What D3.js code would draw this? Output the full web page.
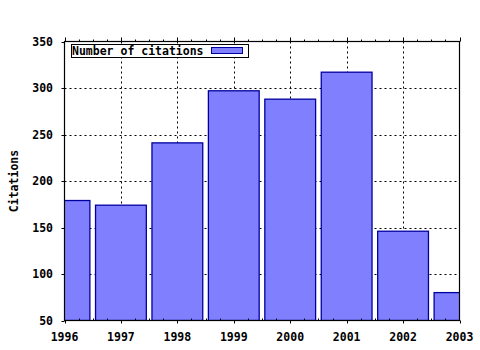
<!DOCTYPE html>
<html>
<head>
  <meta charset="utf-8">
  <script src="https://cdn.jsdelivr.net/npm/d3@7"></script>
  <style>
    body { margin: 0; background: #fff; }
    text {
      font-family: "DejaVu Sans Mono", "Liberation Mono", monospace;
      font-weight: bold;
      font-size: 11.5px;
      fill: #000;
    }
  </style>
</head>
<body>
  <svg id="chart" width="480" height="350"></svg>

  <script>
    var years = [1996, 1997, 1998, 1999, 2000, 2001, 2002, 2003];
    var citations = [179, 174, 241, 297, 288, 317, 146, 80];
    var yTicks = [50, 100, 150, 200, 250, 300, 350];
    var seriesName = "Number of citations";

    var svg = d3.select("#chart"),
      plotLeft = 64.5, plotRight = 459.5, plotTop = 41.5, plotBottom = 320.5;

    var x = d3.scaleLinear().domain([1996, 2003]).range([plotLeft, plotRight]);
    var y = d3.scaleLinear().domain([50, 350]).range([plotBottom, plotTop]);

    var step = x(1997) - x(1996),
      barWidth = step * 0.9;

    svg.append("clipPath")
      .attr("id", "plot-clip")
      .append("rect")
      .attr("x", plotLeft).attr("y", plotTop)
      .attr("width", plotRight - plotLeft).attr("height", plotBottom - plotTop);

    // dotted grid
    var grid = svg.append("g")
      .attr("stroke", "#000")
      .attr("stroke-width", 1)
      .attr("stroke-dasharray", "2,3");

    grid.selectAll(".hgrid")
      .data(yTicks.slice(1, -1))
      .enter()
      .append("line")
      .attr("x1", plotLeft).attr("x2", plotRight)
      .attr("y1", d => Math.round(y(d)) + 0.5)
      .attr("y2", d => Math.round(y(d)) + 0.5);

    grid.selectAll(".vgrid")
      .data(years.slice(1, -1))
      .enter()
      .append("line")
      .attr("y1", plotTop).attr("y2", plotBottom)
      .attr("x1", d => Math.round(x(d)) + 0.5)
      .attr("x2", d => Math.round(x(d)) + 0.5);

    // bars
    svg.append("g")
      .attr("clip-path", "url(#plot-clip)")
      .selectAll("rect")
      .data(years)
      .enter()
      .append("rect")
      .attr("x", d => x(d) - barWidth / 2)
      .attr("width", barWidth)
      .attr("y", (d, i) => y(citations[i]))
      .attr("height", (d, i) => y(50) - y(citations[i]))
      .attr("fill", "#8080ff")
      .attr("stroke", "#0000a0")
      .attr("stroke-width", 1.3);

    // frame
    svg.append("rect")
      .attr("x", plotLeft).attr("y", plotTop)
      .attr("width", plotRight - plotLeft).attr("height", plotBottom - plotTop)
      .attr("fill", "none")
      .attr("stroke", "#000")
      .attr("stroke-width", 1.2);

    // ticks
    var minor = d3.range(1996, 2003.01, 0.25);
    var ticks = svg.append("g").attr("stroke", "#000").attr("stroke-width", 1);

    ticks.selectAll(".tb")
      .data(minor)
      .enter()
      .append("line")
      .attr("x1", d => Math.round(x(d)) + 0.5)
      .attr("x2", d => Math.round(x(d)) + 0.5)
      .attr("y1", d => Number.isInteger(d) ? plotBottom : plotBottom - 2)
      .attr("y2", d => Number.isInteger(d) ? plotBottom + 3 : plotBottom);

    ticks.selectAll(".tt")
      .data(minor)
      .enter()
      .append("line")
      .attr("x1", d => Math.round(x(d)) + 0.5)
      .attr("x2", d => Math.round(x(d)) + 0.5)
      .attr("y1", plotTop)
      .attr("y2", d => Number.isInteger(d) ? plotTop - 4 : plotTop - 2);

    ticks.selectAll(".tl")
      .data(yTicks)
      .enter()
      .append("line")
      .attr("x1", plotLeft - 3).attr("x2", plotLeft)
      .attr("y1", d => Math.round(y(d)) + 0.5)
      .attr("y2", d => Math.round(y(d)) + 0.5);

    // tick labels
    svg.append("g")
      .selectAll("text")
      .data(years)
      .enter()
      .append("text")
      .attr("x", d => x(d))
      .attr("y", 341)
      .attr("text-anchor", "middle")
      .text(d => d);

    svg.append("g")
      .selectAll("text")
      .data(yTicks)
      .enter()
      .append("text")
      .attr("x", 53)
      .attr("y", d => y(d))
      .attr("dy", "0.36em")
      .attr("text-anchor", "end")
      .text(d => d);

    svg.append("text")
      .attr("transform", "translate(18,181) rotate(-90)")
      .attr("text-anchor", "middle")
      .text("Citations");

    // legend
    var legend = svg.append("g");
    legend.append("rect")
      .attr("x", 71.5).attr("y", 44.5)
      .attr("width", 177).attr("height", 13)
      .attr("fill", "#fff")
      .attr("stroke", "#000");
    legend.append("text")
      .attr("x", 72).attr("y", 55)
      .text(seriesName);
    legend.append("rect")
      .attr("x", 211.5).attr("y", 47.5)
      .attr("width", 31).attr("height", 6)
      .attr("fill", "#8080ff")
      .attr("stroke", "#0000a0");
  </script>
</body>
</html>
